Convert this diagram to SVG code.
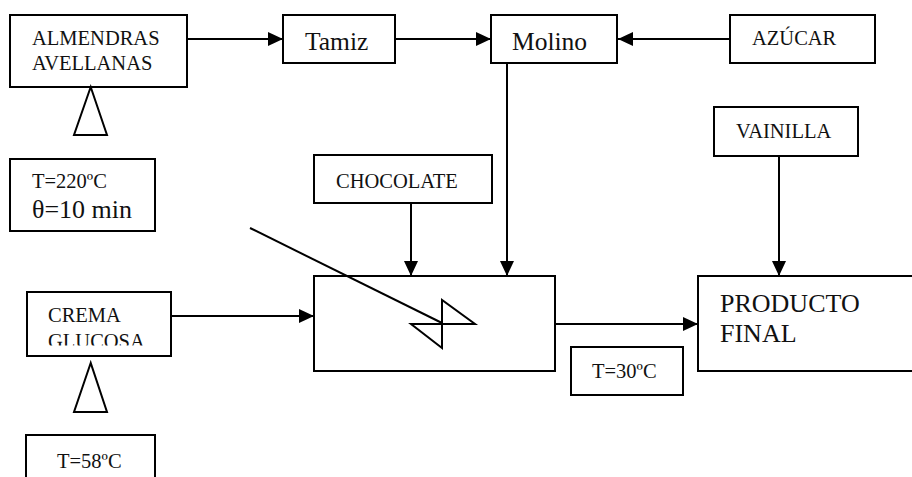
<svg xmlns="http://www.w3.org/2000/svg" width="912" height="477" viewBox="0 0 912 477">
<style>
  .box { fill: #fff; stroke: #000; stroke-width: 2; }
  .ln { stroke: #000; stroke-width: 2; fill: none; }
</style>
<defs>
  <marker id="ah" markerWidth="16" markerHeight="14" refX="15" refY="7" orient="auto" markerUnits="userSpaceOnUse">
    <path d="M0,0 L15,7 L0,14 z" fill="#000"/>
  </marker>
  <clipPath id="cremaClip"><rect x="27" y="292" width="144" height="53.5"/></clipPath>
</defs>
<rect width="912" height="477" fill="#fff"/>
<g fill="#111">
<g id="almendras">
  <rect class="box" x="10" y="15" width="177" height="72"/>
  <text x="32" y="45" font-size="20.5" font-family="Liberation Serif" style="font-family:'Liberation Serif',serif">ALMENDRAS</text>
  <text x="32" y="70" font-size="20.5" font-family="Liberation Serif" style="font-family:'Liberation Serif',serif">AVELLANAS</text>
</g>
<g id="heat1">
  <polygon class="ln" points="90.7,87 74,135 107,135"/>
</g>
<g id="cond1">
  <rect class="box" x="10" y="159" width="145" height="72"/>
  <text x="32" y="188" font-size="20.5" font-family="Liberation Serif" style="font-family:'Liberation Serif',serif">T=220ºC</text>
  <text x="32" y="218" font-size="26" font-family="Liberation Serif" style="font-family:'Liberation Serif',serif">θ=10 min</text>
</g>
<g id="tamiz">
  <rect class="box" x="283" y="15" width="112" height="48"/>
  <text x="305" y="50" font-size="25.5" font-family="Liberation Serif" style="font-family:'Liberation Serif',serif">Tamiz</text>
</g>
<g id="molino">
  <rect class="box" x="491" y="15" width="126" height="48"/>
  <text x="512" y="50" font-size="25.5" font-family="Liberation Serif" style="font-family:'Liberation Serif',serif">Molino</text>
</g>
<g id="azucar">
  <rect class="box" x="730" y="15" width="145" height="48"/>
  <text x="752" y="45" font-size="20.5" font-family="Liberation Serif" style="font-family:'Liberation Serif',serif">AZÚCAR</text>
</g>
<g id="vainilla">
  <rect class="box" x="714" y="107" width="144" height="49"/>
  <text x="736" y="138" font-size="20.5" font-family="Liberation Serif" style="font-family:'Liberation Serif',serif">VAINILLA</text>
</g>
<g id="chocolate">
  <rect class="box" x="314" y="155" width="178" height="48"/>
  <text x="336" y="188" font-size="20.5" font-family="Liberation Serif" style="font-family:'Liberation Serif',serif">CHOCOLATE</text>
</g>
<g id="mezclador">
  <rect class="box" x="314" y="276" width="241" height="95"/>
  <line class="ln" x1="250" y1="228" x2="442" y2="323"/>
  <path class="ln" d="M411,324 L475,324 L442,300 L442,348 Z"/>
</g>
<g id="producto">
  <rect class="box" x="698" y="276" width="220" height="95"/>
  <text x="720" y="312" font-size="26" font-family="Liberation Serif" style="font-family:'Liberation Serif',serif">PRODUCTO</text>
  <text x="720" y="342" font-size="26" font-family="Liberation Serif" style="font-family:'Liberation Serif',serif">FINAL</text>
</g>
<g id="cond3">
  <rect class="box" x="571" y="347" width="112" height="48"/>
  <text x="592" y="378" font-size="20.5" font-family="Liberation Serif" style="font-family:'Liberation Serif',serif">T=30ºC</text>
</g>
<g id="crema">
  <rect class="box" x="27" y="292" width="144" height="64"/>
  <text x="48" y="322" font-size="20.5" font-family="Liberation Serif" style="font-family:'Liberation Serif',serif">CREMA</text>
  <text x="48" y="348" font-size="20.5" font-family="Liberation Serif" style="font-family:'Liberation Serif',serif" clip-path="url(#cremaClip)">GLUCOSA</text>
</g>
<g id="heat2">
  <polygon class="ln" points="90.7,363 74,412 107,412"/>
</g>
<g id="cond2">
  <rect class="box" x="26" y="435" width="129" height="60"/>
  <text x="57" y="468" font-size="20.5" font-family="Liberation Serif" style="font-family:'Liberation Serif',serif">T=58ºC</text>
</g>
</g>
<g id="connectors">
  <line class="ln" x1="187" y1="39" x2="283" y2="39" marker-end="url(#ah)"/>
  <line class="ln" x1="395" y1="39" x2="491" y2="39" marker-end="url(#ah)"/>
  <line class="ln" x1="730" y1="39" x2="618" y2="39" marker-end="url(#ah)"/>
  <line class="ln" x1="507" y1="63" x2="507" y2="276" marker-end="url(#ah)"/>
  <line class="ln" x1="411" y1="203" x2="411" y2="276" marker-end="url(#ah)"/>
  <line class="ln" x1="779" y1="156" x2="779" y2="276" marker-end="url(#ah)"/>
  <line class="ln" x1="171" y1="316" x2="314" y2="316" marker-end="url(#ah)"/>
  <line class="ln" x1="555" y1="324" x2="698" y2="324" marker-end="url(#ah)"/>
</g>
</svg>
